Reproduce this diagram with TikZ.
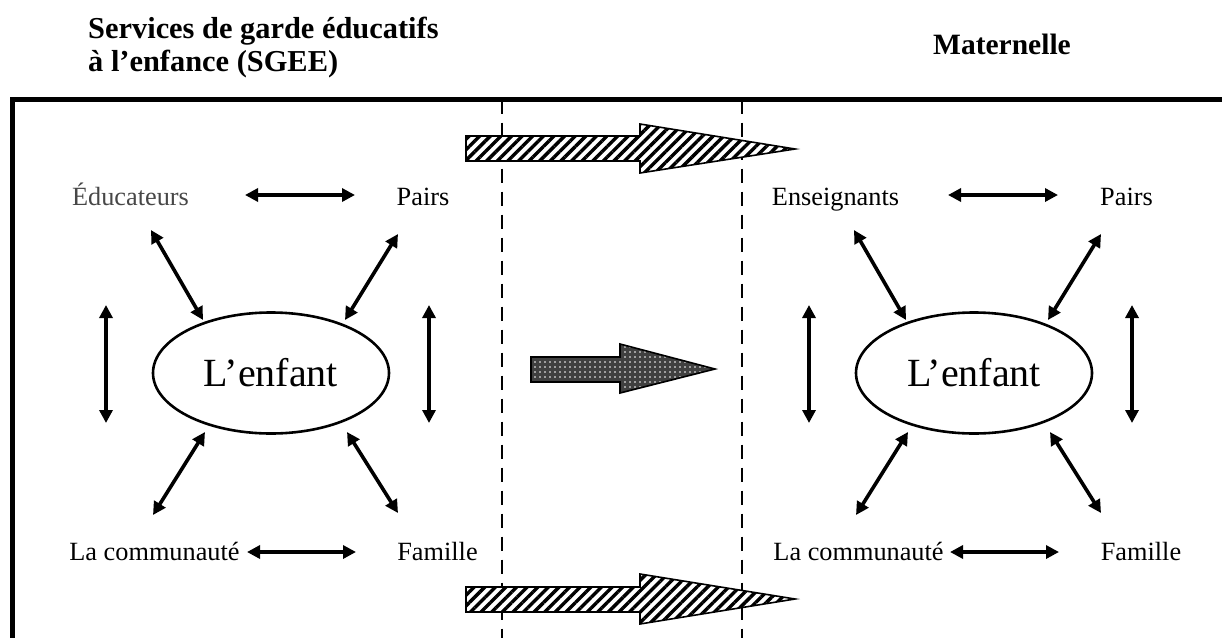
\documentclass[tikz,border=0pt]{standalone}
\usepackage{fontspec}
\setmainfont{Liberation Serif}
\usetikzlibrary{arrows.meta,patterns.meta,shapes.geometric}
\tikzset{
  lbl/.style={inner sep=0pt, anchor=base, font=\fontsize{26.3}{30}\selectfont},
  ttl/.style={inner sep=0pt, anchor=base west, font=\fontsize{30.4}{33}\selectfont\bfseries},
  rel/.style={line width=3.6pt, {Triangle[length=13pt,width=13pt]}-{Triangle[length=13pt,width=13pt]}},
  child/.style={ellipse, draw, line width=2.6pt, minimum width=236pt, minimum height=121pt, inner sep=0pt, font=\fontsize{40}{44}\selectfont},
  hatch/.style={draw, line width=1.6pt, line join=miter, preaction={fill=white}, pattern={Lines[angle=45,distance=7.5pt,line width=3.4pt]}},
  dotty/.style={draw, line width=1.6pt, line join=miter, preaction={fill=black!75}, pattern={Dots[distance=5pt,radius=0.9pt]}, pattern color=white},
  sep/.style={line width=2.8pt, dash pattern=on 14pt off 9pt},
  frame/.style={line width=4.5pt, line join=miter}
}
\begin{document}
\begin{tikzpicture}[x=1pt,y=1pt]
\useasboundingbox (0,0) rectangle (1222,-637);
% frame
\draw[frame] (12.5,-650) -- (12.5,-99.5) -- (1240,-99.5);
% headings
\node[ttl] (t1) at (88,-38) {Services de garde éducatifs};
\node[ttl] (t2) at (88,-71) {à l’enfance (SGEE)};
\node[ttl, anchor=base, font=\fontsize{29.5}{33}\selectfont\bfseries] (t3) at (1002,-54) {Maternelle};
% dashed separators
\coordinate (d1a) at (502,-99.5); \coordinate (d1b) at (502,-640);
\coordinate (d2a) at (742,-99.5); \coordinate (d2b) at (742,-640);
\draw[sep] (d1a) -- (d1b);
\draw[sep] (d2a) -- (d2b);
% transition arrows
\path[hatch] (466,-136) -- (640,-136) -- (640,-124) -- (795,-149) -- (640,-173) -- (640,-161) -- (466,-161) -- cycle;
\path[hatch] (466,-587) -- (640,-587) -- (640,-574) -- (795,-599) -- (640,-624) -- (640,-612) -- (466,-612) -- cycle;
\path[dotty] (531,-357) -- (620,-357) -- (620,-344) -- (715,-369) -- (620,-393) -- (620,-382) -- (531,-382) -- cycle;
% labels
\node[lbl, text=black!72] (eduL) at (130.5,-205) {Éducateurs};
\node[lbl] (eduR) at (835.5,-205) {Enseignants};
\node[lbl] (pairsL) at (423,-205) {Pairs};
\node[lbl] (pairsR) at (1126.5,-205) {Pairs};
\node[lbl] (comL) at (154.5,-560) {La communauté};
\node[lbl] (comR) at (858.5,-560) {La communauté};
\node[lbl] (famL) at (437.5,-560) {Famille};
\node[lbl] (famR) at (1141,-560) {Famille};
% clusters
\foreach \p/\s in {L/0,R/703}{
  \begin{scope}[xshift=\s pt]
    \node[child] (child\p) at (271,-373) {L’enfant};
    \coordinate (th1\p) at (245,-195); \coordinate (th2\p) at (355,-195);
    \coordinate (ul1\p) at (151,-230); \coordinate (ul2\p) at (203,-320);
    \coordinate (ur1\p) at (398,-234); \coordinate (ur2\p) at (345,-320);
    \coordinate (vl1\p) at (106,-305); \coordinate (vl2\p) at (106,-423);
    \coordinate (vr1\p) at (429,-305); \coordinate (vr2\p) at (429,-423);
    \coordinate (ll1\p) at (205,-432); \coordinate (ll2\p) at (153,-515);
    \coordinate (lr1\p) at (347,-432); \coordinate (lr2\p) at (398,-513);
    \coordinate (bh1\p) at (247,-552); \coordinate (bh2\p) at (356,-552);
  \end{scope}
  \draw[rel] (th1\p) -- (th2\p);
  \draw[rel] (ul1\p) -- (ul2\p);
  \draw[rel] (ur1\p) -- (ur2\p);
  \draw[rel] (vl1\p) -- (vl2\p);
  \draw[rel] (vr1\p) -- (vr2\p);
  \draw[rel] (ll1\p) -- (ll2\p);
  \draw[rel] (lr1\p) -- (lr2\p);
  \draw[rel] (bh1\p) -- (bh2\p);
}
\end{tikzpicture}
\end{document}
